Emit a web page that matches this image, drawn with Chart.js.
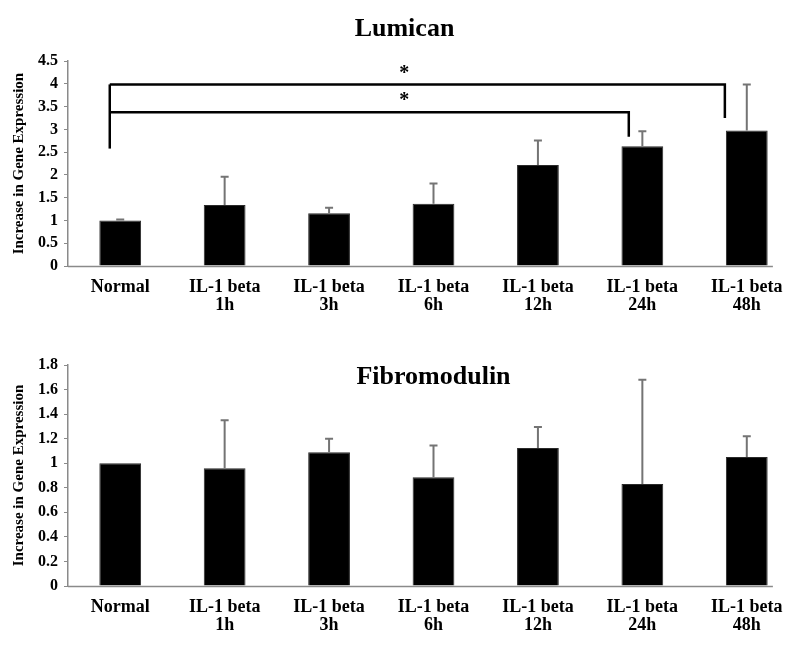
<!DOCTYPE html>
<html>
<head>
<meta charset="utf-8">
<script src="https://cdn.jsdelivr.net/npm/chart.js@4.4.1/dist/chart.umd.min.js"></script>
<style>
  body { margin: 0; background: #fff; }
  #wrap { position: relative; width: 800px; height: 648px; }
  canvas { position: absolute; left: 0; }
</style>
</head>
<body>
<div id="wrap">
  <canvas id="chart-lumican" width="800" height="325" style="top:0"></canvas>
  <canvas id="chart-fibro" width="800" height="318" style="top:330px"></canvas>
</div>
<script>
// 카테고리 / 데이터
const categories = [
    'Normal',
    ['IL-1 beta', '1h'],
    ['IL-1 beta', '3h'],
    ['IL-1 beta', '6h'],
    ['IL-1 beta', '12h'],
    ['IL-1 beta', '24h'],
    ['IL-1 beta', '48h']
];

const lumicanMean = [1.0, 1.34, 1.16, 1.37, 2.22, 2.63, 2.98];
const lumicanErr  = [0.02, 0.62, 0.12, 0.44, 0.54, 0.33, 1.01];

const fibroMean = [1.0, 0.96, 1.09, 0.885, 1.125, 0.83, 1.05];
const fibroErr  = [0.0, 0.39, 0.11, 0.26, 0.17, 0.85, 0.17];

const lumicanTicks = [0, 0.5, 1, 1.5, 2, 2.5, 3, 3.5, 4, 4.5];
const fibroTicks = [0, 0.2, 0.4, 0.6, 0.8, 1, 1.2, 1.4, 1.6, 1.8];

// 유의성 브래킷 (Normal -> 48h, Normal -> 24h)
const bracketTo    = [6, 5];
const bracketLevel = [3.99, 3.38];
const bracketDrop  = [3.25, 2.84];
const bracketStart = 2.58;
const bracketMark  = ['*', '*'];

const SERIF = '"Liberation Serif", "Times New Roman", serif';
const AXIS_GREY = '#8a8a8a';

// 오차 막대 (위쪽만)
const errorBars = {
    id: 'errorBars',
    afterDatasetsDraw(chart, args, opts) {
        const ctx = chart.ctx;
        const y = chart.scales.y;
        const meta = chart.getDatasetMeta(0);
        ctx.save();
        ctx.strokeStyle = '#747474';
        ctx.lineWidth = 2;
        meta.data.forEach((bar, i) => {
            const err = opts.errors[i];
            if (!err) return;
            const top = y.getPixelForValue(opts.means[i] + err);
            ctx.beginPath();
            ctx.moveTo(bar.x, bar.y);
            ctx.lineTo(bar.x, top);
            ctx.moveTo(bar.x - 4, top);
            ctx.lineTo(bar.x + 4, top);
            ctx.stroke();
        });
        ctx.restore();
    }
};

// x축 선 (마지막 막대 옆에서 끝남)
const baseLine = {
    id: 'baseLine',
    afterDatasetsDraw(chart) {
        const ctx = chart.ctx;
        const x = chart.scales.x, y = chart.scales.y;
        const y0 = Math.round(y.getPixelForValue(0)) + 0.5;
        ctx.save();
        ctx.strokeStyle = AXIS_GREY;
        ctx.lineWidth = 1.5;
        ctx.beginPath();
        ctx.moveTo(chart.chartArea.left, y0);
        ctx.lineTo(x.getPixelForValue(categories.length - 0.75), y0);
        ctx.stroke();
        ctx.restore();
    }
};

const brackets = {
    id: 'brackets',
    afterDatasetsDraw(chart, args, opts) {
        if (!opts.on) return;
        const ctx = chart.ctx;
        const x = chart.scales.x, y = chart.scales.y;
        const left = x.getPixelForValue(-0.1);
        ctx.save();
        ctx.strokeStyle = '#000';
        ctx.lineWidth = 2.5;
        ctx.lineJoin = 'miter';
        // 왼쪽 세로선
        ctx.beginPath();
        ctx.moveTo(left, y.getPixelForValue(bracketStart));
        ctx.lineTo(left, y.getPixelForValue(bracketLevel[0]));
        ctx.stroke();
        const rightOff = [-0.21, -0.13];
        bracketTo.forEach((to, i) => {
            const yy = y.getPixelForValue(bracketLevel[i]);
            const right = x.getPixelForValue(to + rightOff[i]);
            ctx.beginPath();
            ctx.moveTo(left, yy);
            ctx.lineTo(right, yy);
            ctx.lineTo(right, y.getPixelForValue(bracketDrop[i]));
            ctx.stroke();
            ctx.fillStyle = '#000';
            ctx.font = 'bold 20px ' + SERIF;
            ctx.textAlign = 'center';
            ctx.textBaseline = 'middle';
            ctx.fillText(bracketMark[i], x.getPixelForValue(2.72), yy - 11);
        });
        ctx.restore();
    }
};

// 플롯 안쪽 제목 (Fibromodulin)
const innerTitle = {
    id: 'innerTitle',
    afterDraw(chart, args, opts) {
        if (!opts.text) return;
        const ctx = chart.ctx;
        const a = chart.chartArea;
        ctx.save();
        ctx.fillStyle = '#000';
        ctx.font = 'bold 26px ' + SERIF;
        ctx.textAlign = 'center';
        ctx.textBaseline = 'middle';
        ctx.fillText(opts.text, (a.left + a.right) / 2, a.top + 12);
        ctx.restore();
    }
};

function makeChart(canvasId, means, errs, ticks, max, cfg) {
    const ctx = document.getElementById(canvasId).getContext('2d');
    return new Chart(ctx, {
        type: 'bar',
        data: {
            labels: categories,
            datasets: [{
                data: means,
                backgroundColor: '#000',
                borderColor: '#2a2a2a',
                borderWidth: 1,
                barPercentage: 0.8,
                categoryPercentage: 0.5
            }]
        },
        options: {
            responsive: false,
            animation: false,
            layout: { padding: cfg.padding },
            plugins: {
                legend: { display: false },
                tooltip: { enabled: false },
                title: cfg.title ? {
                    display: true,
                    text: cfg.title,
                    color: '#000',
                    font: { family: SERIF, size: 26, weight: 'bold' },
                    padding: { top: 14, bottom: 16 }
                } : { display: false },
                errorBars: { means: means, errors: errs },
                brackets: { on: !!cfg.brackets },
                innerTitle: { text: cfg.innerTitle || '' }
            },
            scales: {
                x: {
                    offset: true,
                    grid: { display: false },
                    border: { display: false },
                    ticks: {
                        color: '#000',
                        maxRotation: 0,
                        autoSkip: false,
                        padding: 4,
                        font: { family: SERIF, size: 18, weight: 'bold', lineHeight: 1.0 }
                    }
                },
                y: {
                    min: 0,
                    max: max,
                    afterBuildTicks: s => { s.ticks = ticks.map(v => ({ value: v })); },
                    grid: { drawOnChartArea: false, tickLength: 4, color: AXIS_GREY },
                    border: { color: AXIS_GREY, width: 1.5 },
                    ticks: {
                        color: '#000',
                        padding: 6,
                        font: { family: SERIF, size: 16, weight: 'bold' },
                        callback: v => v
                    },
                    title: {
                        display: true,
                        text: 'Increase in Gene Expression',
                        color: '#000',
                        font: { family: SERIF, size: 15, weight: 'bold' },
                        padding: { top: 0, bottom: 4 }
                    }
                }
            }
        },
        plugins: [errorBars, baseLine, brackets, innerTitle]
    });
}

makeChart('chart-lumican', lumicanMean, lumicanErr, lumicanTicks, 4.5, {
    title: 'Lumican',
    brackets: true,
    padding: { left: 10, right: 1, top: 0, bottom: 7 }
});

makeChart('chart-fibro', fibroMean, fibroErr, fibroTicks, 1.8, {
    innerTitle: 'Fibromodulin',
    padding: { left: 10, right: 1, top: 35, bottom: 10 }
});
</script>
</body>
</html>
